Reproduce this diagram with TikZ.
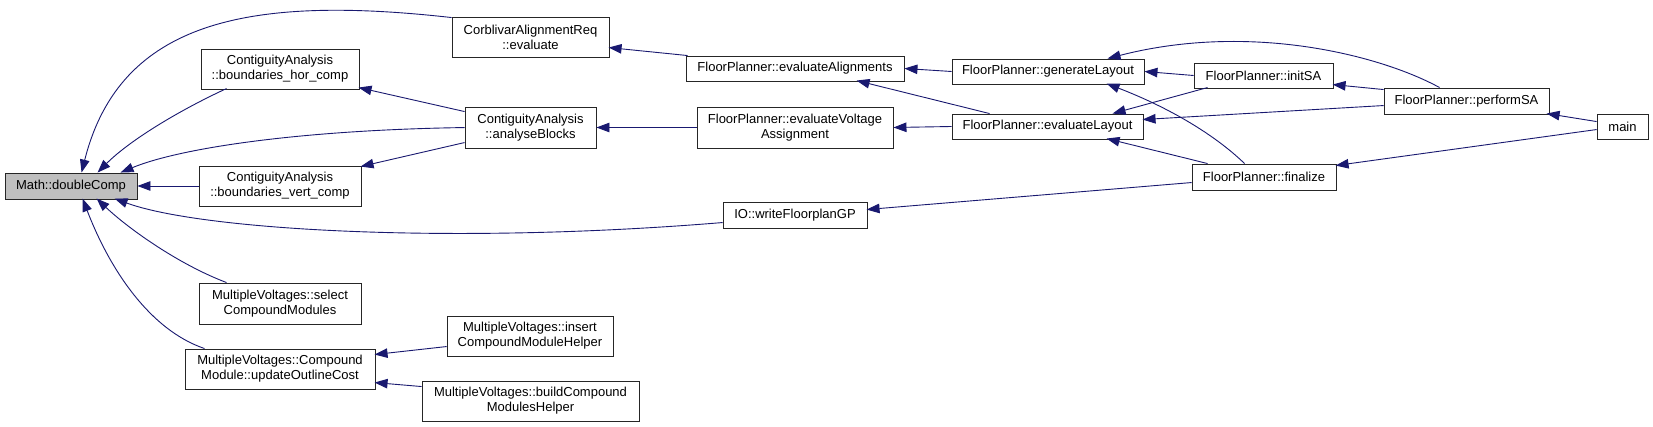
\documentclass[tikz,border=0pt]{standalone}
\usepackage{fontspec}
\setmainfont{Liberation Sans}
\usetikzlibrary{calc,arrows.meta}
\definecolor{edgeblue}{HTML}{191970}
\definecolor{boxgray}{HTML}{BFBFBF}
\tikzset{
  fbox/.style={draw=black!85, line width=0.9pt, fill=white, inner sep=0pt, align=center,
    font=\fontsize{13}{15}\selectfont},
  rootbox/.style={fbox, fill=boxgray},
  edge/.style={draw=edgeblue, line width=0.9pt, -{Triangle[length=13pt,width=9.5pt]}}
}
\begin{document}
\begin{tikzpicture}[x=1pt,y=-1pt]
\fill[white] (0,0) rectangle (1653,427);
\useasboundingbox (0,0) rectangle (1653,427);

\node[rootbox, minimum width=132pt, minimum height=26pt] (dc) at (71,186) {Math::doubleComp};
\node[fbox, minimum width=158pt, minimum height=40pt] (hor) at (280,69) {ContiguityAnalysis\\::boundaries\_hor\_comp};
\node[fbox, minimum width=162pt, minimum height=40pt] (vert) at (280,186) {ContiguityAnalysis\\::boundaries\_vert\_comp};
\node[fbox, minimum width=162pt, minimum height=41pt] (sel) at (280,303.5) {MultipleVoltages::select\\CompoundModules};
\node[fbox, minimum width=190pt, minimum height=40pt] (upd) at (280,369) {MultipleVoltages::Compound\\Module::updateOutlineCost};
\node[fbox, minimum width=157pt, minimum height=40pt] (eval) at (530.5,37) {CorblivarAlignmentReq\\::evaluate};
\node[fbox, minimum width=131pt, minimum height=41pt] (ab) at (530.5,127.5) {ContiguityAnalysis\\::analyseBlocks};
\node[fbox, minimum width=166pt, minimum height=40pt] (ins) at (530,336) {MultipleVoltages::insert\\CompoundModuleHelper};
\node[fbox, minimum width=217pt, minimum height=40pt] (build) at (530.5,401) {MultipleVoltages::buildCompound\\ModulesHelper};
\node[fbox, minimum width=218pt, minimum height=25pt] (ea) at (795,68.5) {FloorPlanner::evaluateAlignments};
\node[fbox, minimum width=196pt, minimum height=41pt] (eva) at (795,127.5) {FloorPlanner::evaluateVoltage\\Assignment};
\node[fbox, minimum width=144pt, minimum height=26pt] (wf) at (795,215) {IO::writeFloorplanGP};
\node[fbox, minimum width=192pt, minimum height=25pt] (gl) at (1048,71.5) {FloorPlanner::generateLayout};
\node[fbox, minimum width=191pt, minimum height=25pt] (el) at (1047.5,126.5) {FloorPlanner::evaluateLayout};
\node[fbox, minimum width=139pt, minimum height=25pt] (init) at (1263.5,75.5) {FloorPlanner::initSA};
\node[fbox, minimum width=144pt, minimum height=26pt] (fin) at (1264,177) {FloorPlanner::finalize};
\node[fbox, minimum width=165pt, minimum height=26pt] (perf) at (1466.5,101) {FloorPlanner::performSA};
\node[fbox, minimum width=51pt, minimum height=25pt] (main) at (1622.5,126.5) {main};

% edges into Math::doubleComp
\draw[edge] ($(eval.north west)+(0,1)$) .. controls (250,-5) and (120,20) .. ($(dc.north west)+(77,0)$);
\draw[edge] ($(hor.north west)+(26,40)$) .. controls (180,110) and (130,140) .. ($(dc.north west)+(93,0)$);
\draw[edge] ($(ab.north west)+(0,21)$) .. controls (300,130) and (180,148) .. ($(dc.north west)+(116,0)$);
\draw[edge] (vert.west) -- (dc.east);
\draw[edge] ($(wf.north west)+(0,21)$) .. controls (450,245) and (200,230) .. ($(dc.north west)+(110,26)$);
\draw[edge] ($(sel.north west)+(28,0)$) .. controls (180,265) and (130,230) .. ($(dc.north west)+(92,26)$);
\draw[edge] ($(upd.north west)+(20,0)$) .. controls (150,330) and (110,270) .. ($(dc.north west)+(78,26)$);

% second column
\draw[edge] ($(ab.north west)+(0,5)$) -- ($(hor.north west)+(158,39)$);
\draw[edge] ($(ab.north west)+(0,36)$) -- ($(vert.north west)+(162,1)$);
\draw[edge] ($(ea.north west)+(2,0)$) -- ($(eval.north west)+(157,31)$);
\draw[edge] (eva.west) -- (ab.east);
\draw[edge] (gl.west) -- (ea.east);
\draw[edge] ($(el.north west)+(38,0)$) -- ($(ea.north west)+(171,25)$);
\draw[edge] (el.west) -- (eva.east);
\draw[edge] (init.west) -- (gl.east);
\draw[edge] ($(perf.north west)+(56,0)$) .. controls (1380,55) and (1250,22) .. ($(gl.north west)+(156,0)$);
\draw[edge] ($(fin.north west)+(53,0)$) .. controls (1215,135) and (1170,108) .. ($(gl.north west)+(155,25)$);
\draw[edge] ($(init.north west)+(14,25)$) -- ($(el.north west)+(161,0)$);
\draw[edge] ($(perf.north west)+(0,18)$) -- ($(el.north west)+(191,6)$);
\draw[edge] ($(fin.north west)+(16,0)$) -- ($(el.north west)+(155,25)$);
\draw[edge] ($(perf.north west)+(0,2)$) -- ($(init.north west)+(139,22)$);
\draw[edge] ($(main.north west)+(0,8)$) -- ($(perf.north west)+(163,26)$);
\draw[edge] ($(main.north west)+(0,16)$) -- ($(fin.north west)+(144,2)$);
\draw[edge] ($(fin.north west)+(0,19)$) -- ($(wf.north west)+(144,8)$);
\draw[edge] ($(ins.north west)+(0,31)$) -- ($(upd.north west)+(190,6)$);
\draw[edge] ($(build.north west)+(0,6)$) -- ($(upd.north west)+(190,34)$);
\end{tikzpicture}
\end{document}
